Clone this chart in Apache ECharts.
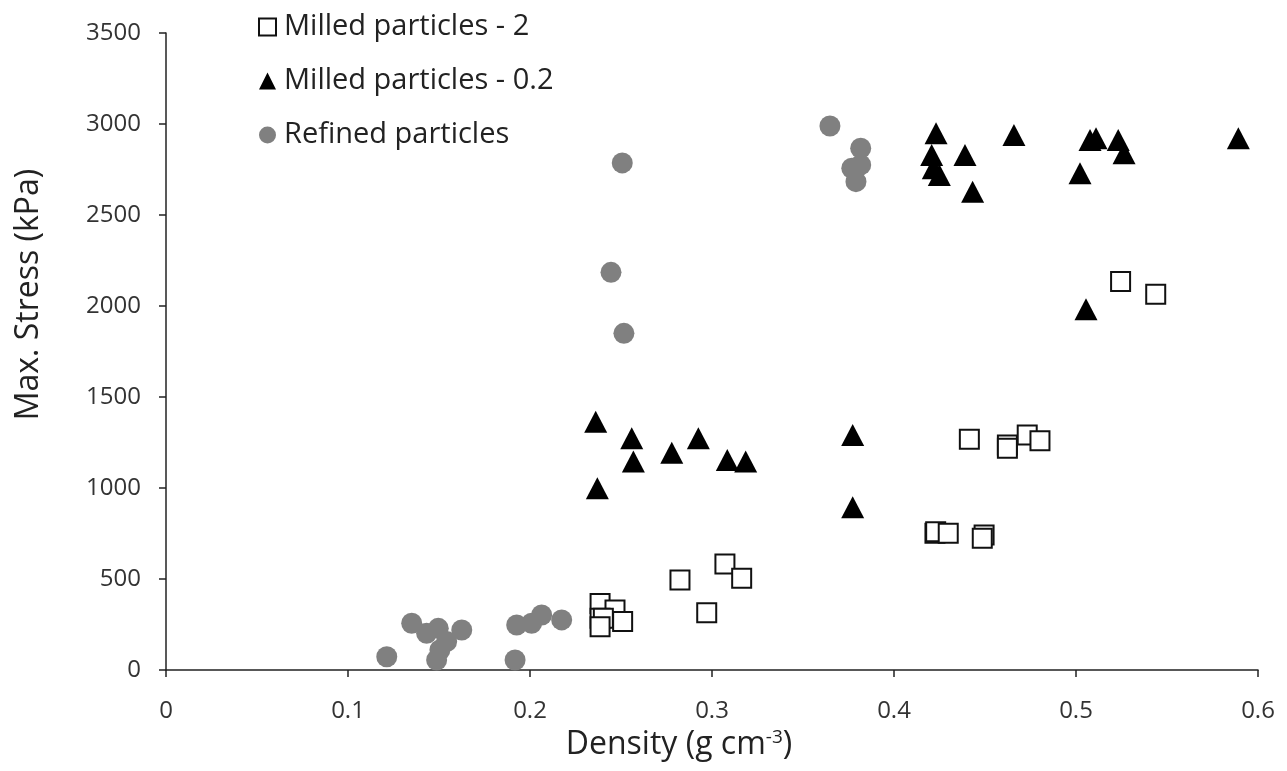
<!DOCTYPE html>
<html>
<head>
<meta charset="utf-8">
<script src="https://cdn.jsdelivr.net/npm/echarts@6/dist/echarts.min.js"></script>
<style>
html,body{margin:0;padding:0;background:#fff;}
#chart{width:1287px;height:771px;}
</style>
</head>
<body>
<div id="chart"></div>
<script>
// Series names
var seriesNames = ['Milled particles - 2', 'Milled particles - 0.2', 'Refined particles'];

// Milled particles - 2 : [density, max stress]
var milled2 = [
  [0.2385, 366], [0.2467, 330], [0.2385, 284], [0.2403, 284], [0.2385, 238],
  [0.2509, 266], [0.2824, 495], [0.2971, 315], [0.3071, 582], [0.3163, 504],
  [0.4414, 1268], [0.4623, 1236], [0.4623, 1218], [0.4732, 1291], [0.4802, 1260],
  [0.4225, 751], [0.4229, 760], [0.4298, 751], [0.4495, 742], [0.4485, 724],
  [0.5245, 2134], [0.5438, 2065]
];

// Milled particles - 0.2
var milled02 = [
  [0.2361, 1364], [0.2559, 1273], [0.2568, 1145], [0.2779, 1194], [0.2925, 1273],
  [0.3084, 1154], [0.3185, 1145], [0.2370, 998], [0.3773, 1291], [0.3773, 894],
  [0.4231, 2949], [0.4207, 2830], [0.4216, 2757], [0.4249, 2720], [0.4390, 2830],
  [0.4432, 2628], [0.4659, 2940], [0.5077, 2912], [0.5110, 2922], [0.5022, 2729],
  [0.5232, 2912], [0.5264, 2839], [0.5892, 2922], [0.5055, 1982]
];

// Refined particles
var refined = [
  [0.1213, 73], [0.1350, 257], [0.1432, 202], [0.1496, 229], [0.1625, 220],
  [0.1542, 156], [0.1505, 110], [0.1487, 55], [0.1918, 55], [0.1927, 247],
  [0.2009, 257], [0.2064, 302], [0.2174, 275],
  [0.2507, 2786], [0.2445, 2185], [0.2516, 1850],
  [0.3648, 2989], [0.3817, 2867], [0.3817, 2775], [0.3768, 2757], [0.3791, 2683]
];

var xTicks = {min: 0, max: 0.6, interval: 0.1};
var yTicks = {min: 0, max: 3500, interval: 500};

var FONT = '"Open Sans", "Liberation Sans", sans-serif';
var chart = echarts.init(document.getElementById('chart'), null, {renderer: 'canvas'});

chart.setOption({
  animation: false,
  backgroundColor: '#ffffff',
  grid: {left: 166, right: 29, top: 33, bottom: 101, containLabel: false},
  legend: {
    orient: 'vertical',
    left: 253,
    top: 7,
    itemWidth: 17,
    itemHeight: 17,
    itemGap: 24,
    data: seriesNames,
    textStyle: {fontFamily: FONT, fontSize: 29, color: '#222', lineHeight: 30, padding: [0, 0, 0, 3]}
  },
  xAxis: {
    type: 'value',
    min: xTicks.min, max: xTicks.max, interval: xTicks.interval,
    splitLine: {show: false},
    axisLine: {show: true, onZero: false, lineStyle: {color: '#222', width: 1.5}},
    axisTick: {show: true, length: 7, lineStyle: {color: '#222', width: 1.5}},
    axisLabel: {fontFamily: FONT, fontSize: 24, color: '#333', margin: 29,
      formatter: function (v) { return String(Math.round(v * 10) / 10); }},
    name: 'Density (g cm{sup|-3})',
    nameLocation: 'middle',
    nameGap: 58,
    nameTextStyle: {
      fontFamily: FONT, fontSize: 32, color: '#222', padding: [0, 66, 0, 0],
      rich: {sup: {fontFamily: FONT, fontSize: 19, color: '#222', verticalAlign: 'top', padding: [0, 0, 14, 0]}}
    }
  },
  yAxis: {
    type: 'value',
    min: yTicks.min, max: yTicks.max, interval: yTicks.interval,
    splitLine: {show: false},
    axisLine: {show: true, lineStyle: {color: '#222', width: 1.5}},
    axisTick: {show: true, length: 7, lineStyle: {color: '#222', width: 1.5}},
    axisLabel: {fontFamily: FONT, fontSize: 24, color: '#333', margin: 25,
      formatter: function (v) { return String(v); }},
    name: 'Max. Stress (kPa)',
    nameLocation: 'middle',
    nameRotate: 90,
    nameGap: 121,
    nameTextStyle: {fontFamily: FONT, fontSize: 32, color: '#222', padding: [0, 0, 0, 114]}
  },
  series: [
    {
      name: seriesNames[0], type: 'scatter', data: milled2,
      symbol: 'rect', symbolSize: 19,
      itemStyle: {color: '#ffffff', borderColor: '#111', borderWidth: 2, opacity: 1},
      z: 3
    },
    {
      name: seriesNames[1], type: 'scatter', data: milled02,
      symbol: 'triangle', symbolSize: [23, 22],
      itemStyle: {color: '#000000', opacity: 1},
      z: 2
    },
    {
      name: seriesNames[2], type: 'scatter', data: refined,
      symbol: 'circle', symbolSize: 21,
      itemStyle: {color: '#808080', opacity: 1},
      z: 1
    }
  ]
});
</script>
</body>
</html>
